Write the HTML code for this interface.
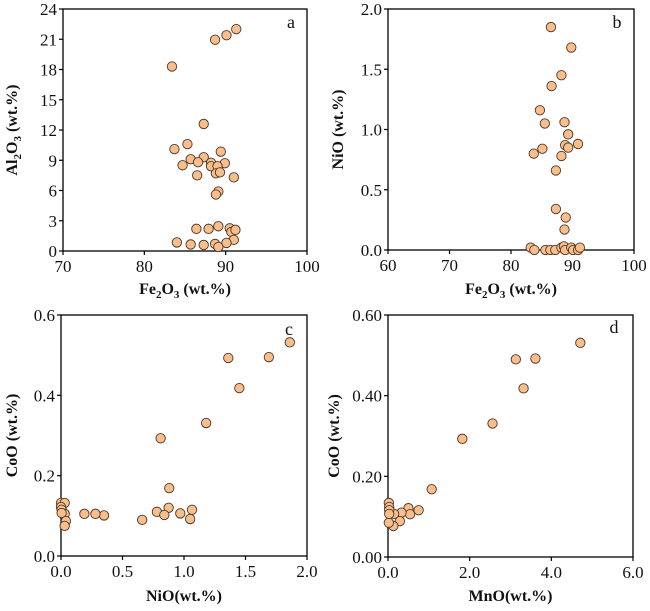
<!DOCTYPE html>
<html><head><meta charset="utf-8"><style>
html,body{margin:0;padding:0;background:#fff;}
svg{display:block;}
text{font-family:"Liberation Serif","Times New Roman",serif;fill:#111;}
.tick{font-size:17px;}
.title{font-size:16px;font-weight:bold;}
.pl{font-size:18px;}
</style></head><body>
<svg id="fig" width="650" height="611" viewBox="0 0 650 611"></svg>
<script>
// Panel a: Fe2O3 vs Al2O3
const aFe = [91.3,90.1,88.7,83.4,87.3,85.3,83.7,89.4,87.3,85.7,86.6,88.2,89.9,84.7,88.2,89.0,88.8,89.3,86.5,91.0,89.1,88.8,86.4,87.9,89.1,90.5,90.7,91.2,91.0,84.0,85.7,87.3,88.7,90.1,89.1];
const aAl = [22.0,21.4,20.95,18.3,12.6,10.6,10.1,9.85,9.3,9.1,8.8,8.75,8.7,8.5,8.4,8.4,7.7,7.8,7.5,7.3,5.9,5.6,2.2,2.2,2.45,2.25,1.9,2.1,1.1,0.85,0.65,0.6,0.7,0.8,0.4];
const aXTicks = [70,80,90,100];
const aYTicks = [0,3,6,9,12,15,18,21,24];
// Panel b: Fe2O3 vs NiO
const bFe = [86.5,89.8,88.2,86.6,84.7,85.5,88.7,89.3,85.1,83.7,88.8,89.3,90.9,88.2,87.3,87.3,88.9,88.7,83.2,83.8,85.6,86.4,87.2,88.2,88.6,88.8,89.8,90.1,90.9,91.2];
const bNi = [1.85,1.68,1.45,1.36,1.16,1.05,1.06,0.96,0.84,0.80,0.87,0.85,0.88,0.78,0.66,0.34,0.27,0.17,0.02,0,0,0,0,0.02,0.03,0,0.02,0,0,0.02];
const bXTicks = [60,70,80,90,100];
const bYTicks = ["0.0","0.5","1.0","1.5","2.0"];
// Panel c: NiO vs CoO
const cNi = [1.86,1.69,1.36,1.45,1.18,0.81,0.88,0.875,0.78,0.84,0.97,1.065,1.05,0.66,0.35,0.28,0.19,0,0.03,0,0.005,0.03,0.005,0.04,0.03];
const cCo = [0.532,0.495,0.493,0.418,0.331,0.293,0.169,0.120,0.110,0.102,0.106,0.115,0.092,0.090,0.101,0.105,0.105,0.132,0.132,0.122,0.115,0.105,0.107,0.087,0.075];
const cXTicks = ["0.0","0.5","1.0","1.5","2.0"];
const cYTicks = ["0.0","0.2","0.4","0.6"];
// Panel d: MnO vs CoO
const dMn = [4.71,3.61,3.13,3.32,2.56,1.82,1.07,0.75,0.50,0.54,0.33,0.29,0.13,0.02,0.15,0.02,0.03,0.03,0.03];
const dCo = [0.531,0.492,0.490,0.418,0.331,0.293,0.168,0.116,0.121,0.106,0.110,0.089,0.077,0.085,0.107,0.134,0.124,0.116,0.107];
const dXTicks = ["0.0","2.0","4.0","6.0"];
const dYTicks = ["0.00","0.20","0.40","0.60"];

const NS="http://www.w3.org/2000/svg";
const svg=document.getElementById('fig');
function mk(tag,attrs,parent){const e=document.createElementNS(NS,tag);for(const k in attrs)e.setAttribute(k,attrs[k]);(parent||svg).appendChild(e);return e;}

function panel(id,box,xs,ys,xTicks,yTicks,xTitleHTML,yTitleHTML,letter,letterPos,xTitleY,yTitleX){
  const g=mk('g',{});
  
  
  const xmin=+xTicks[0],xmax=+xTicks[xTicks.length-1],ymin=+yTicks[0],ymax=+yTicks[yTicks.length-1];
  const sx=v=>box.l+(v-xmin)/(xmax-xmin)*(box.r-box.l);
  const sy=v=>box.b-(v-ymin)/(ymax-ymin)*(box.b-box.t);
  const fr=mk('rect',{x:box.l,y:box.t,width:box.r-box.l,height:box.b-box.t,fill:'none',stroke:'#000','stroke-width':1.3},g);
  
  
  xTicks.forEach(t=>{
    const x=sx(+t);
    mk('line',{x1:x,x2:x,y1:box.b,y2:box.b+4,stroke:'#000','stroke-width':1.2},g);
    const tx=mk('text',{x:x,y:box.b+21,'text-anchor':'middle',class:'tick'},g);
    tx.textContent=t;
    
    
  });
  yTicks.forEach(t=>{
    const y=sy(+t);
    mk('line',{x1:box.l-4,x2:box.l,y1:y,y2:y,stroke:'#000','stroke-width':1.2},g);
    const tx=mk('text',{x:box.l-6,y:y+6,'text-anchor':'end',class:'tick'},g);
    tx.textContent=t;
    
    
  });
  for(let i=0;i<xs.length;i++){
    const c=mk('circle',{cx:sx(xs[i]),cy:sy(ys[i]),r:4.7,fill:'#F8BF8D',stroke:'#4a3628','stroke-width':0.9},g);
    
    
  }
  const xt=mk('text',{x:(box.l+box.r)/2,y:xTitleY,'text-anchor':'middle',class:'title'},g);
  xt.innerHTML=xTitleHTML;
  
  
  const cy=(box.t+box.b)/2;
  const yt=mk('text',{x:0,y:0,'text-anchor':'middle',class:'title',transform:`translate(${yTitleX},${cy}) rotate(-90)`},g);
  yt.innerHTML=yTitleHTML;
  
  
  const lt=mk('text',{x:letterPos[0],y:letterPos[1],'text-anchor':'middle',class:'pl'},g);
  lt.textContent=letter;
  
  
}
const sub='<tspan dy="4" font-size="11">';
panel('a',{l:63,r:307,t:9,b:251},aFe,aAl,aXTicks,aYTicks,
  'Fe'+sub+'2</tspan><tspan dy="-4">O</tspan>'+sub+'3</tspan><tspan dy="-4"> (wt.%)</tspan>',
  'Al'+sub+'2</tspan><tspan dy="-4">O</tspan>'+sub+'3</tspan><tspan dy="-4"> (wt.%)</tspan>','a',[291,28],294,17);
panel('b',{l:388,r:634,t:9,b:250},bFe,bNi,bXTicks,bYTicks,
  'Fe'+sub+'2</tspan><tspan dy="-4">O</tspan>'+sub+'3</tspan><tspan dy="-4"> (wt.%)</tspan>',
  'NiO (wt.%)','b',[617,28],294,343);
panel('c',{l:61,r:307,t:315,b:556},cNi,cCo,cXTicks,cYTicks,'NiO(wt.%)','CoO (wt.%)','c',[289,335],601,17);
panel('d',{l:388,r:633,t:315,b:557},dMn,dCo,dXTicks,dYTicks,'MnO(wt.%)','CoO (wt.%)','d',[614,333],601,339);
</script>
</body></html>
